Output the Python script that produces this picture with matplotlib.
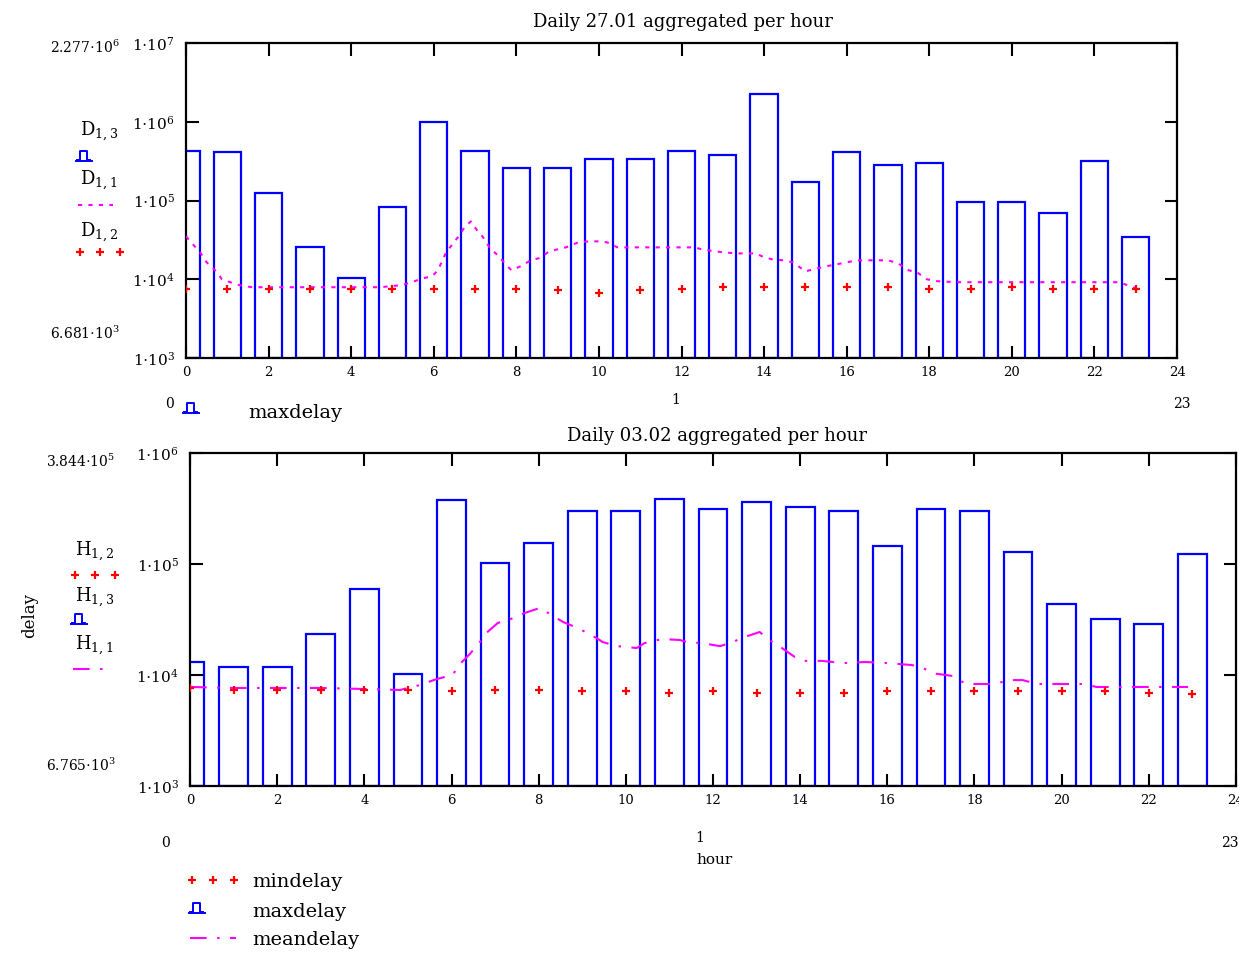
import numpy as np
import matplotlib
matplotlib.use("Agg")
import matplotlib.pyplot as plt
from matplotlib.lines import Line2D
from matplotlib.ticker import FixedLocator, NullLocator, FuncFormatter

plt.rcParams["font.family"] = ["DejaVu Serif"]
plt.rcParams["mathtext.fontset"] = "dejavuserif"

W, H = 1239, 956

hours = list(range(24))

# 27.01
top_max = [4.3e5, 4.1e5, 1.26e5, 2.54e4, 1.03e4, 8.2e4, 1.0e6, 4.3e5, 2.6e5, 2.6e5,
           3.4e5, 3.4e5, 4.3e5, 3.8e5, 2.277e6, 1.7e5, 4.1e5, 2.8e5, 3.0e5, 9.7e4,
           9.7e4, 6.9e4, 3.2e5, 3.4e4]
top_min = [7470, 7470, 7470, 7470, 7470, 7470, 7470, 7470, 7470, 7230,
           6681, 7230, 7470, 7930, 7930, 7930, 7930, 7930, 7470, 7470,
           7930, 7470, 7470, 7470]
top_mean_h = [0.0, 0.36, 0.5, 0.73, 0.87, 1.07, 1.3, 1.6, 2, 3, 4, 4.7, 5.2, 5.47, 5.74,
              5.96, 6.1, 6.3, 6.45, 6.6, 6.76, 6.9, 7.05, 7.18, 7.35, 7.55, 7.7, 7.88,
              8.1, 8.35, 8.55, 8.8, 9.0, 9.2, 9.5, 9.75, 10.0, 10.2, 10.45, 11.0, 11.7,
              12.3, 12.5, 12.8, 13.3, 13.8, 14.0, 14.2, 14.45, 14.7, 15.0, 15.3, 15.5,
              15.76, 16.0, 16.25, 16.5, 17.0, 17.24, 17.5, 17.7, 17.94, 18.2, 18.7,
              19, 20, 21, 22, 22.6, 22.8, 23.0]
top_mean = [35000, 21300, 16400, 12600, 10000, 9170, 8400, 7920, 7920, 7920, 7920, 7920,
            8400, 9170, 10300, 10900, 13000, 22000, 27700, 35000, 46900, 54200, 41700,
            35000, 25400, 20100, 16400, 13000, 14600, 17400, 18500, 22600, 24000, 25400,
            29400, 30300, 30300, 29400, 25400, 25400, 25400, 25400, 24000, 22600, 21300,
            21300, 19000, 17900, 17400, 16400, 12600, 13800, 14600, 15500, 16400, 17400,
            17400, 17400, 16000, 13000, 12300, 10000, 9440, 9170, 9170, 9170, 9170, 9170,
            9170, 8400, 7700]

# 03.02
bot_max = [1.31e4, 1.18e4, 1.18e4, 2.34e4, 5.96e4, 1.02e4, 3.77e5, 1.02e5, 1.55e5, 3.0e5,
           3.0e5, 3.844e5, 3.13e5, 3.62e5, 3.26e5, 3.0e5, 1.45e5, 3.13e5, 3.0e5, 1.28e5,
           4.36e4, 3.2e4, 2.88e4, 1.23e5]
bot_min = [7640, 7330, 7330, 7330, 7330, 7330, 7180, 7330, 7330, 7180,
           7180, 6880, 7180, 6880, 6880, 6880, 7180, 7180, 7180, 7180,
           7180, 7180, 6880, 6765]
bot_mean_h = [0, 1, 2, 3, 4, 4.82, 5.28, 5.66, 6.03, 6.15, 6.42, 6.69, 6.8, 7.06, 7.5,
              7.68, 8.03, 8.37, 8.56, 8.9, 9.33, 9.47, 9.8, 10.25, 10.43, 10.83, 11.24,
              11.4, 11.74, 12.16, 12.39, 12.73, 13.07, 13.26, 13.58, 13.88, 14.1, 14.5,
              15.0, 15.5, 16.0, 16.56, 16.8, 17.1, 17.5, 17.8, 18.1, 18.46, 18.8, 19.1,
              19.45, 19.8, 20.1, 20.5, 20.8, 21.15, 21.5, 22.1, 22.9]
bot_mean = [7800, 7640, 7640, 7640, 7480, 7330, 8130, 9200, 10000, 12050, 15460, 20660,
            23900, 29400, 33300, 36200, 40200, 33300, 30000, 26500, 21500, 19800, 18200,
            17500, 19400, 21100, 20660, 19800, 19400, 18200, 19400, 22000, 24400, 21100,
            17500, 14500, 13400, 13400, 12800, 13100, 12800, 12300, 11600, 10300, 9800,
            8300, 8300, 8300, 9000, 9000, 8300, 8300, 8300, 8300, 7800, 7800, 7800, 7800,
            7800]

BLUE = "#0000ff"
RED = "#ff0000"
MAG = "#ff00ff"


def fx(x):
    return x / W


def fy(y):
    return 1 - y / H


def ptext(fig, x, y, s, **kw):
    kw.setdefault("va", "center")
    kw.setdefault("ha", "left")
    fig.text(fx(x), fy(y), s, **kw)


def bar_glyph(fig, x0, y0):
    xs = [x0, x0 + 3, x0 + 3, x0 + 10, x0 + 10, x0 + 13]
    ys = [y0, y0, y0 - 9, y0 - 9, y0, y0]
    fig.add_artist(Line2D([fx(v) for v in xs], [fy(v) for v in ys], color=BLUE, lw=1.4,
                          transform=fig.transFigure))
    fig.add_artist(Line2D([fx(x0 - 1), fx(x0 + 15)], [fy(y0 + 1), fy(y0 + 1)], color=BLUE,
                          lw=1.4, transform=fig.transFigure))


def plus_glyph(fig, xs, y):
    fig.add_artist(Line2D([fx(v) for v in xs], [fy(y)] * len(xs), ls="none", marker="+",
                          ms=6, mew=1.6, color=RED, transform=fig.transFigure))


def mean_glyph(fig, x0, x1, y, ls):
    fig.add_artist(Line2D([fx(x0), fx(x1)], [fy(y), fy(y)], color=MAG, lw=1.5, ls=ls,
                          transform=fig.transFigure))


def sci_label(v, pos=None):
    e = int(round(np.log10(v)))
    return r"$1{\cdot}10^{%d}$" % e


def setup_axes(ax, ylo, yhi):
    ax.set_yscale("log")
    ax.set_xlim(0, 24)
    ax.set_ylim(ylo, yhi)
    exps = range(int(np.log10(ylo)), int(np.log10(yhi)) + 1)
    ax.yaxis.set_major_locator(FixedLocator([10.0 ** e for e in exps]))
    ax.yaxis.set_minor_locator(NullLocator())
    ax.yaxis.set_major_formatter(FuncFormatter(sci_label))
    ax.set_xticks(range(0, 25, 2))
    ax.tick_params(direction="in", length=9, width=1.5, top=True, right=True,
                   labelsize=9.5, pad=6, colors="black")
    ax.tick_params(axis="y", labelsize=11, pad=8)
    for s in ax.spines.values():
        s.set_linewidth(1.6)
        s.set_color("black")


def draw(ax, maxv, minv, mh, mv, ylo, ls):
    heights = [v - ylo for v in maxv]
    ax.bar(hours, heights, bottom=ylo, width=0.66, fill=False, edgecolor=BLUE,
           linewidth=1.6, zorder=2)
    ax.plot(mh, mv, color=MAG, lw=1.5, ls=ls, zorder=3)
    ax.plot(hours, minv, ls="none", marker="+", ms=6, mew=1.6, color=RED, zorder=4)


fig = plt.figure(figsize=(W / 100, H / 100), dpi=100)

top_ls = (0, (2, 3))
bot_ls = (0, (8, 5, 1.2, 5))

ax1 = fig.add_axes([fx(186), fy(358), fx(1177 - 186), (358 - 43) / H])
setup_axes(ax1, 1e3, 1e7)
draw(ax1, top_max, top_min, top_mean_h, top_mean, 1e3, top_ls)

ax2 = fig.add_axes([fx(190), fy(786), fx(1236 - 190), (786 - 453) / H])
setup_axes(ax2, 1e3, 1e6)
draw(ax2, bot_max, bot_min, bot_mean_h, bot_mean, 1e3, bot_ls)

# titles
ptext(fig, 683, 22, "Daily 27.01 aggregated per hour", ha="center", fontsize=13)
ptext(fig, 717, 436, "Daily 03.02 aggregated per hour", ha="center", fontsize=13)

# limit read-outs
ptext(fig, 50, 47, r"$2.277{\cdot}10^{6}$", fontsize=10)
ptext(fig, 50, 333, r"$6.681{\cdot}10^{3}$", fontsize=10)
ptext(fig, 46, 461, r"$3.844{\cdot}10^{5}$", fontsize=10)
ptext(fig, 46, 765, r"$6.765{\cdot}10^{3}$", fontsize=10)

# trace labels, top
ptext(fig, 80, 131, r"$\mathrm{D}_{1,3}$", fontsize=13)
bar_glyph(fig, 77, 160)
ptext(fig, 80, 180, r"$\mathrm{D}_{1,1}$", fontsize=13)
mean_glyph(fig, 78, 113, 205, top_ls)
ptext(fig, 80, 232, r"$\mathrm{D}_{1,2}$", fontsize=13)
plus_glyph(fig, [80, 100, 120], 252)

# trace labels, bottom
ptext(fig, 75, 551, r"$\mathrm{H}_{1,2}$", fontsize=13)
plus_glyph(fig, [75, 95, 115], 575)
ptext(fig, 75, 597, r"$\mathrm{H}_{1,3}$", fontsize=13)
bar_glyph(fig, 72, 623)
ptext(fig, 75, 645, r"$\mathrm{H}_{1,1}$", fontsize=13)
mean_glyph(fig, 73, 106, 669, bot_ls)
ptext(fig, 30, 615, "delay", ha="center", rotation=90, fontsize=12)

# x read-outs
ptext(fig, 165, 404, "0", fontsize=10)
bar_glyph(fig, 184, 412)
ptext(fig, 248, 413, "maxdelay", fontsize=14)
ptext(fig, 676, 400, "1", ha="center", fontsize=10)
ptext(fig, 1182, 404, "23", ha="center", fontsize=10)

ptext(fig, 161, 843, "0", fontsize=10)
ptext(fig, 700, 838, "1", ha="center", fontsize=10)
ptext(fig, 715, 860, "hour", ha="center", fontsize=11)
ptext(fig, 1230, 843, "23", ha="center", fontsize=10)

# legend
plus_glyph(fig, [192, 213, 234], 880)
ptext(fig, 252, 882, "mindelay", fontsize=14)
bar_glyph(fig, 190, 912)
ptext(fig, 252, 912, "maxdelay", fontsize=14)
mean_glyph(fig, 190, 236, 938, bot_ls)
ptext(fig, 252, 940, "meandelay", fontsize=14)

fig.savefig("out.png", dpi=100)
